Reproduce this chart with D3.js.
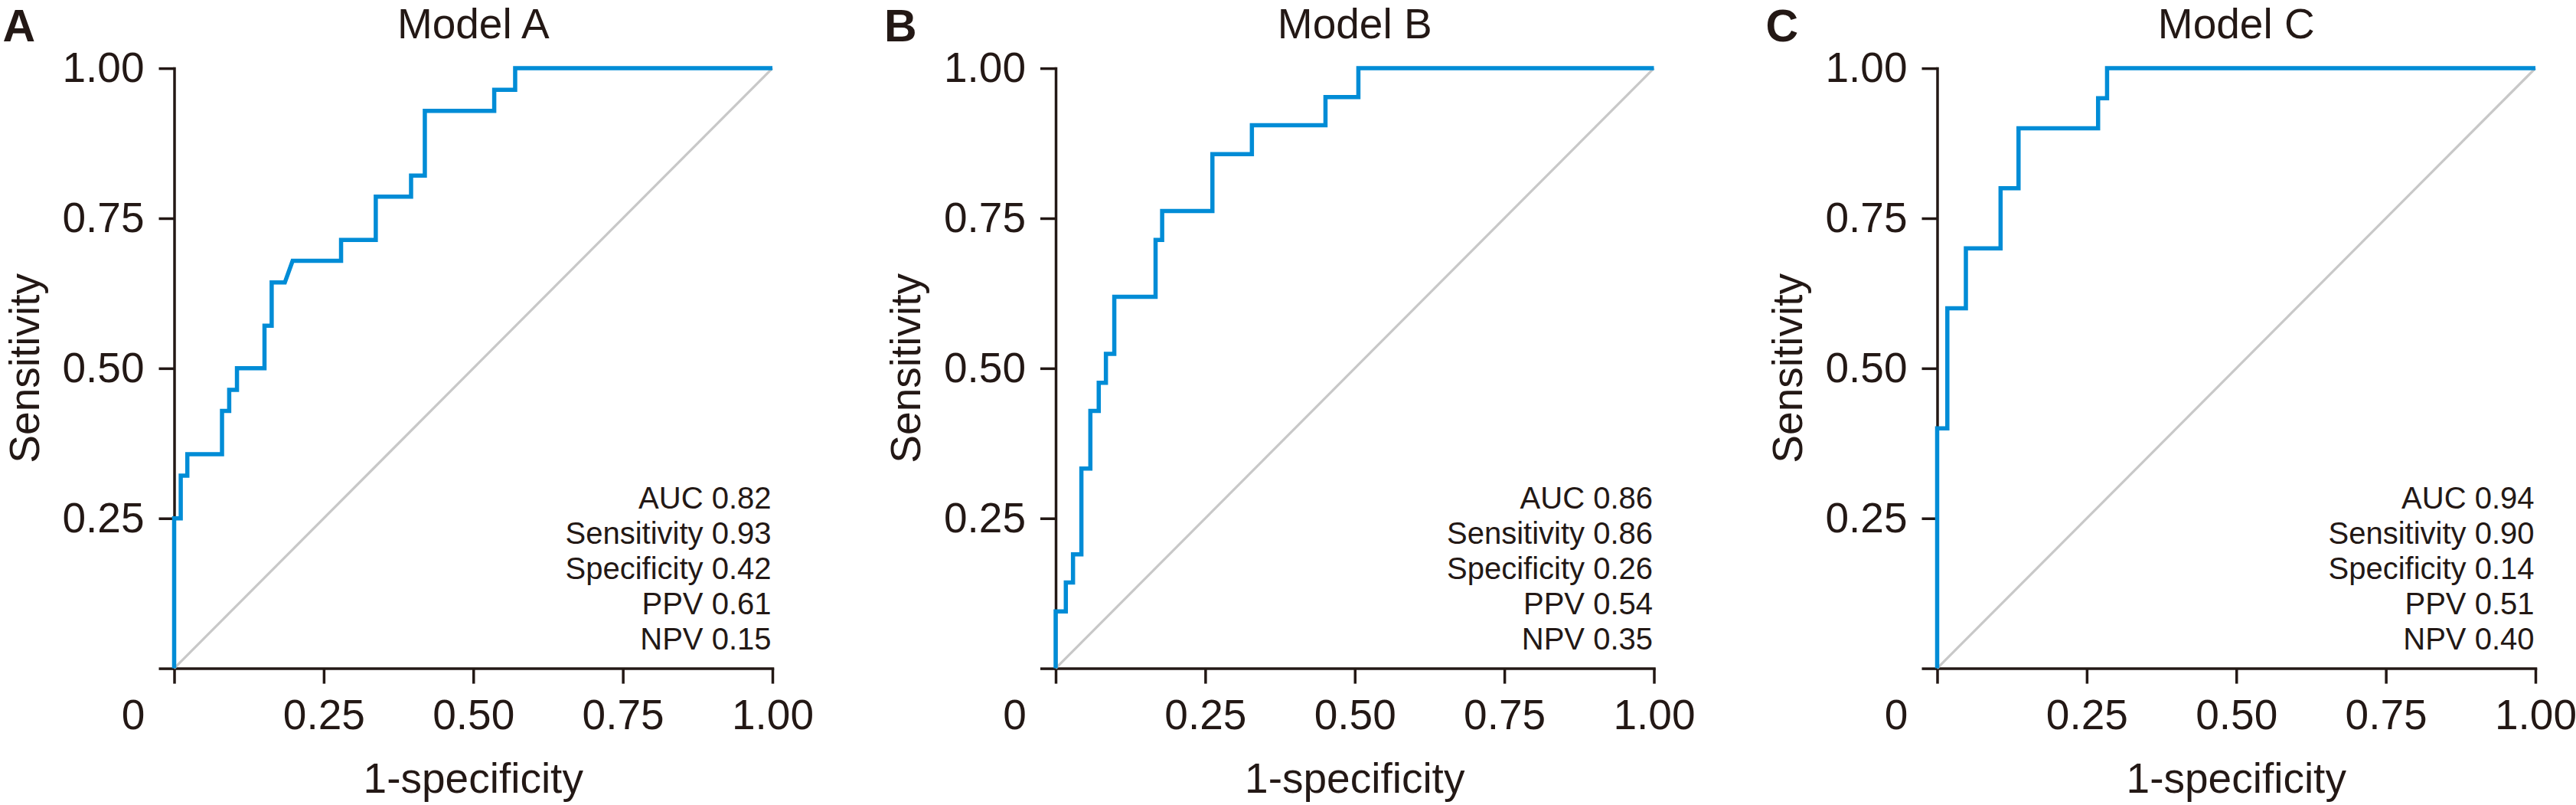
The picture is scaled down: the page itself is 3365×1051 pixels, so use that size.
<!DOCTYPE html>
<html>
<head>
<meta charset="utf-8">
<script src="https://cdn.jsdelivr.net/npm/d3@7"></script>
<style>
  body { margin: 0; background: #fff; }
  svg { display: block; }
</style>
</head>
<body>
<svg id="chart" width="3365" height="1051"></svg>
<script>
// panels
const panelLetters = ["A", "B", "C"]
const modelNames = ["Model A", "Model B", "Model C"]

// ROC vertices (1-specificity, sensitivity)
const fprA = [0, 0, 0.011, 0.011, 0.022, 0.022, 0.080, 0.080, 0.092, 0.092, 0.105, 0.105, 0.151, 0.151, 0.163, 0.163, 0.185, 0.198, 0.279, 0.279, 0.337, 0.337, 0.396, 0.396, 0.419, 0.419, 0.535, 0.535, 0.570, 0.570, 1]
const tprA = [0, 0.25, 0.25, 0.321, 0.321, 0.357, 0.357, 0.429, 0.429, 0.464, 0.464, 0.5, 0.5, 0.571, 0.571, 0.643, 0.643, 0.679, 0.679, 0.714, 0.714, 0.786, 0.786, 0.821, 0.821, 0.929, 0.929, 0.964, 0.964, 1, 1]

const fprB = [0, 0, 0.017, 0.017, 0.029, 0.029, 0.043, 0.043, 0.058, 0.058, 0.072, 0.072, 0.084, 0.084, 0.098, 0.098, 0.167, 0.167, 0.178, 0.178, 0.262, 0.262, 0.328, 0.328, 0.451, 0.451, 0.506, 0.506, 1]
const tprB = [0, 0.095, 0.095, 0.143, 0.143, 0.190, 0.190, 0.333, 0.333, 0.429, 0.429, 0.476, 0.476, 0.524, 0.524, 0.619, 0.619, 0.714, 0.714, 0.762, 0.762, 0.857, 0.857, 0.905, 0.905, 0.952, 0.952, 1, 1]

const fprC = [0, 0, 0.017, 0.017, 0.048, 0.048, 0.106, 0.106, 0.136, 0.136, 0.269, 0.269, 0.284, 0.284, 1]
const tprC = [0, 0.4, 0.4, 0.6, 0.6, 0.7, 0.7, 0.8, 0.8, 0.9, 0.9, 0.95, 0.95, 1, 1]

// stats box
const statNames = ["AUC", "Sensitivity", "Specificity", "PPV", "NPV"]
const statsA = ["0.82", "0.93", "0.42", "0.61", "0.15"]
const statsB = ["0.86", "0.86", "0.26", "0.54", "0.35"]
const statsC = ["0.94", "0.90", "0.14", "0.51", "0.40"]

// ticks
const tickValues = [0, 0.25, 0.5, 0.75, 1]
const tickLabels = ["0", "0.25", "0.50", "0.75", "1.00"]

const fprs = [fprA, fprB, fprC]
const tprs = [tprA, tprB, tprC]
const stats = [statsA, statsB, statsC]

const font = "'Liberation Sans', Arial, Helvetica, sans-serif"
const ink = "#231815"
const blue = "#008cd6"
const grey = "#c8c8c8"

const plotW = 781.5
const plotTop = 89.1, plotBottom = 872.6
const firstX = 227.5, step = 1151.5

const x = d3.scaleLinear().domain([0, 1]).range([0, plotW])
const y = d3.scaleLinear().domain([0, 1]).range([plotBottom, plotTop])

const svg = d3.select("#chart")
    .attr("font-family", font)

const line = d3.line()
    .x(d => x(d[0]))
    .y(d => y(d[1]))

panelLetters.forEach((letter, i) => {
    const g = svg.append("g")
        .attr("transform", `translate(${firstX + i * step},0)`)

    // axes
    const yAxis = d3.axisLeft(y)
        .tickValues(tickValues)
        .tickFormat((d, k) => k === 0 ? "" : tickLabels[k])
        .tickSize(20)
        .tickSizeOuter(0)
        .tickPadding(19)
    const xAxis = d3.axisBottom(x)
        .tickValues(tickValues)
        .tickFormat((d, k) => k === 0 ? "" : tickLabels[k])
        .tickSize(20)
        .tickSizeOuter(0)
        .tickPadding(20)

    const gy = g.append("g").call(yAxis)
    const gx = g.append("g").attr("transform", `translate(0,${plotBottom})`).call(xAxis)

    ;[gx, gy].forEach(a => {
        a.attr("font-family", font).attr("font-size", 55)
        a.selectAll("path, line").attr("stroke", ink).attr("stroke-width", 3.5)
        a.select(".domain").attr("stroke-linecap", "square")
        a.selectAll("text").attr("fill", ink)
    })

    // shared origin label
    g.append("text")
        .attr("x", x(0) - 53.5)
        .attr("y", 952)
        .attr("text-anchor", "middle")
        .attr("font-size", 55)
        .attr("fill", ink)
        .text(tickLabels[0])

    // chance line
    g.append("path")
        .datum([[0, 0], [1, 1]])
        .attr("d", line)
        .attr("fill", "none")
        .attr("stroke", grey)
        .attr("stroke-width", 3.2)

    // roc curve
    g.append("path")
        .datum(fprs[i].map((f, k) => [f, tprs[i][k]]))
        .attr("d", line)
        .attr("fill", "none")
        .attr("stroke", blue)
        .attr("stroke-width", 5.5)
        .attr("stroke-linejoin", "miter")

    // stats
    g.append("g")
        .selectAll("text")
        .data(statNames)
        .join("text")
        .attr("x", plotW - 1.5)
        .attr("y", (d, k) => 664.3 + k * 45.8)
        .attr("text-anchor", "end")
        .attr("font-size", 40)
        .attr("fill", ink)
        .text((d, k) => `${d} ${stats[i][k]}`)

    // title + letter
    g.append("text")
        .attr("x", plotW / 2)
        .attr("y", 50)
        .attr("text-anchor", "middle")
        .attr("font-size", 55)
        .attr("fill", ink)
        .text(modelNames[i])

    g.append("text")
        .attr("x", -224)
        .attr("y", 54)
        .attr("font-size", 59)
        .attr("font-weight", "bold")
        .attr("fill", ink)
        .text(letter)

    // axis titles
    g.append("text")
        .attr("transform", `translate(-177,${(plotTop + plotBottom) / 2}) rotate(-90)`)
        .attr("text-anchor", "middle")
        .attr("font-size", 55)
        .attr("fill", ink)
        .text("Sensitivity")

    g.append("text")
        .attr("x", plotW / 2)
        .attr("y", 1035)
        .attr("text-anchor", "middle")
        .attr("font-size", 55)
        .attr("fill", ink)
        .text("1-specificity")
})
</script>
</body>
</html>
